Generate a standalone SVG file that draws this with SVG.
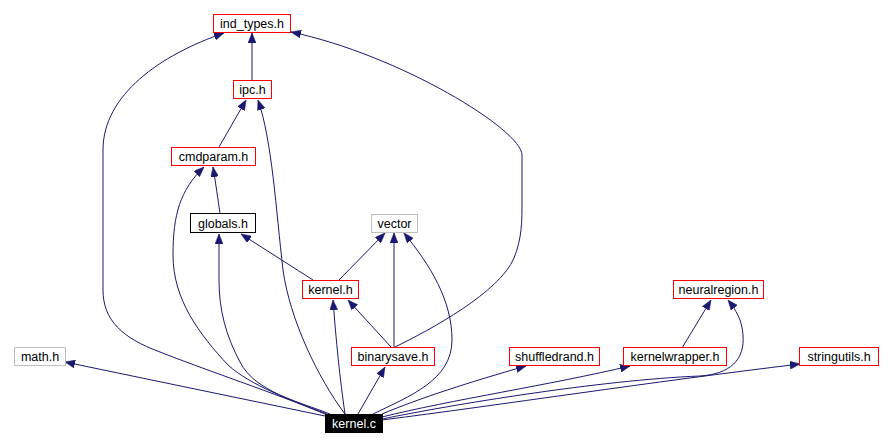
<svg xmlns="http://www.w3.org/2000/svg" width="890" height="446" viewBox="0 0 890 446">
<style>
.n rect{fill:#fff;stroke:#ff0000;stroke-width:1}
.n.g rect{stroke:#bfbfbf}
.n.b rect{stroke:#000}
.n.k rect{fill:#000;stroke:#000}
.n text{font-family:"Liberation Sans",Arial,sans-serif;font-size:12.5px;text-anchor:middle;fill:#000}
.n.k text{fill:#fff}
#edges path{fill:none;stroke:#191970;stroke-width:1;marker-end:url(#ah)}
</style>
<defs>
<marker id="ah" viewBox="0 0 10 8" refX="10" refY="4" markerWidth="10" markerHeight="8" markerUnits="userSpaceOnUse" orient="auto">
<path d="M0,0 L10,4 L0,8 z" fill="#191970" stroke="#191970" stroke-width="0.5"/>
</marker>
</defs>
<rect width="890" height="446" fill="#fff"/>
<g id="edges">
<path d="M252,80 L252,33"/>
<path d="M325,414 C280,395 200,368 160,352 C122,338 103,320 103,290 L103,150 C103,95 160,55 224,33"/>
<path d="M395,347 C430,330 500,292 514,258 C522,238 522,222 522,200 L522,155 C522,130 400,55 291,32"/>
<path d="M219,147 L246,100"/>
<path d="M345,414 C318,378 290,320 283,270 C276,210 272,140 258,100"/>
<path d="M220,213 C218,200 216,185 213,167"/>
<path d="M327,414 C290,400 250,385 228,365 C200,335 173,300 173,255 C173,215 180,190 204,167"/>
<path d="M313,280 L241,234"/>
<path d="M330,414 C300,402 255,392 240,362 C226,336 219,310 219,280 L219,234"/>
<path d="M339,280 L385,233"/>
<path d="M394,347 L394,233"/>
<path d="M373,414 C410,396 452,380 452,340 C452,300 430,265 404,233"/>
<path d="M391,347 L348,300"/>
<path d="M345,414 C340,380 336,340 333,300"/>
<path d="M358,414 L385,367"/>
<path d="M325,416 L65,362"/>
<path d="M382,414 C420,398 470,382 526,366"/>
<path d="M382,417 C450,400 550,385 630,366"/>
<path d="M682,348 L711,300"/>
<path d="M382,419 C450,405 600,380 700,376 C730,374 745,360 743,335 C742,320 736,310 728,300"/>
<path d="M382,420 C500,405 650,382 800,364"/>
</g>
<g id="ind_types" class="n"><rect x="213.5" y="14.5" width="77" height="18"/><text x="252" y="28">ind_types.h</text></g>
<g id="ipc" class="n"><rect x="233.5" y="80.5" width="38" height="18"/><text x="252.5" y="94">ipc.h</text></g>
<g id="cmdparam" class="n"><rect x="171.5" y="147.5" width="84" height="18"/><text x="213.5" y="161">cmdparam.h</text></g>
<g id="globals" class="n b"><rect x="190.5" y="213.5" width="65" height="19"/><text x="223" y="227.5">globals.h</text></g>
<g id="vector" class="n g"><rect x="371.5" y="214.5" width="46" height="18"/><text x="394.5" y="228">vector</text></g>
<g id="kernel_h" class="n"><rect x="302.5" y="280.5" width="56" height="18"/><text x="330.5" y="294">kernel.h</text></g>
<g id="neuralregion" class="n"><rect x="673.5" y="280.5" width="90" height="18"/><text x="718.5" y="294">neuralregion.h</text></g>
<g id="math" class="n g"><rect x="14.5" y="347.5" width="51" height="18"/><text x="40" y="361">math.h</text></g>
<g id="binarysave" class="n"><rect x="351.5" y="347.5" width="83" height="18"/><text x="393" y="361">binarysave.h</text></g>
<g id="shuffledrand" class="n"><rect x="509.5" y="347.5" width="90" height="18"/><text x="554.5" y="361">shuffledrand.h</text></g>
<g id="kernelwrapper" class="n"><rect x="623.5" y="347.5" width="103" height="18"/><text x="675" y="361">kernelwrapper.h</text></g>
<g id="stringutils" class="n"><rect x="799.5" y="347.5" width="79" height="18"/><text x="839" y="361">stringutils.h</text></g>
<g id="kernel_c" class="n k"><rect x="325.5" y="414.5" width="57" height="18"/><text x="354" y="428">kernel.c</text></g>
</svg>
